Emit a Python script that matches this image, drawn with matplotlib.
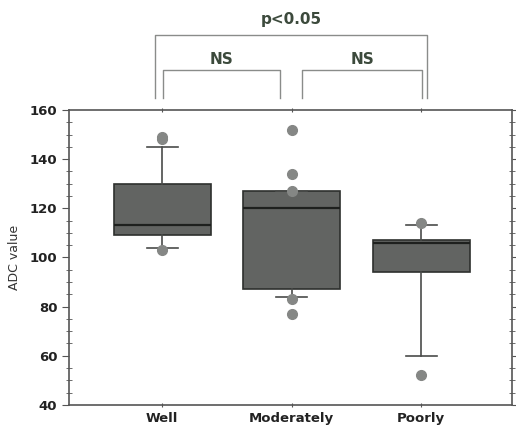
import matplotlib
matplotlib.use("Agg")
import matplotlib.pyplot as plt
from matplotlib.ticker import MultipleLocator

# values
groups = ["Well", "Moderately", "Poorly"]
q1 = [109, 87, 94]
med = [113, 120, 106]
q3 = [130, 127, 107]
whislo = [104, 84, 60]
whishi = [145, 127, 113]
fliers = [[148, 149, 103], [152, 134, 127, 83, 77], [114, 52]]

# significance brackets: (left group, right group, label)
pairs = [(0, 1, "NS"), (1, 2, "NS"), (0, 2, "p<0.05")]

fig = plt.figure(figsize=(5.16, 4.28), dpi=100)
ax = fig.add_axes([0.134, 0.054, 0.858, 0.689])

stats = []
for i, g in enumerate(groups):
    stats.append(dict(label=g, q1=q1[i], med=med[i], q3=q3[i],
                      whislo=whislo[i], whishi=whishi[i], fliers=fliers[i]))

pos = [1, 2, 3]
ax.bxp(stats, positions=pos, widths=0.75, patch_artist=True,
       showfliers=True, showcaps=True,
       boxprops=dict(facecolor="#626462", edgecolor="#2e302e", linewidth=1.2),
       medianprops=dict(color="#1e201e", linewidth=1.6),
       whiskerprops=dict(color="#4a4c4a", linewidth=1.2),
       capprops=dict(color="#4a4c4a", linewidth=1.2),
       capwidths=0.24,
       flierprops=dict(marker="o", markerfacecolor="#858785",
                       markeredgecolor="#858785", markersize=7))

ax.set_xlim(0.282, 3.70)
ax.set_ylim(40, 160)
ax.yaxis.set_major_locator(MultipleLocator(20))
ax.yaxis.set_minor_locator(MultipleLocator(5))
ax.tick_params(axis="y", which="major", direction="out", length=5,
               color="#555555", labelsize=9.5, right=True)
ax.tick_params(axis="y", which="minor", direction="inout", length=4,
               color="#555555", right=True)
ax.tick_params(axis="x", direction="inout", length=3, color="#555555",
               labelsize=9.5, top=True)
for lab in ax.get_yticklabels() + ax.get_xticklabels():
    lab.set_fontweight("bold")
    lab.set_color("#222222")
for s in ax.spines.values():
    s.set_color("#555555")
    s.set_linewidth(1.2)

ax.set_ylabel("ADC value", fontsize=9, color="#333333", labelpad=6)

# brackets above the plot
foot = 164.9
for a, b, label in pairs:
    if label == "p<0.05":
        x0, x1, h, ty = pos[a] - 0.054, pos[b] + 0.046, 190.5, 197.0
    else:
        x0, x1, h, ty = pos[a] + 0.01, pos[b] - 0.09, 176.3, 180.5
        if a == 1:
            x0, x1 = pos[a] + 0.08, pos[b] + 0.01
    ax.plot([x0, x0, x1, x1], [foot, h, h, foot], color="#8a8c8a",
            linewidth=1.0, clip_on=False)
    ax.text((x0 + x1) / 2, ty, label, ha="center", va="center",
            fontsize=11, fontweight="bold", color="#3c4a3c", clip_on=False)

fig.savefig("out.png", dpi=100)
